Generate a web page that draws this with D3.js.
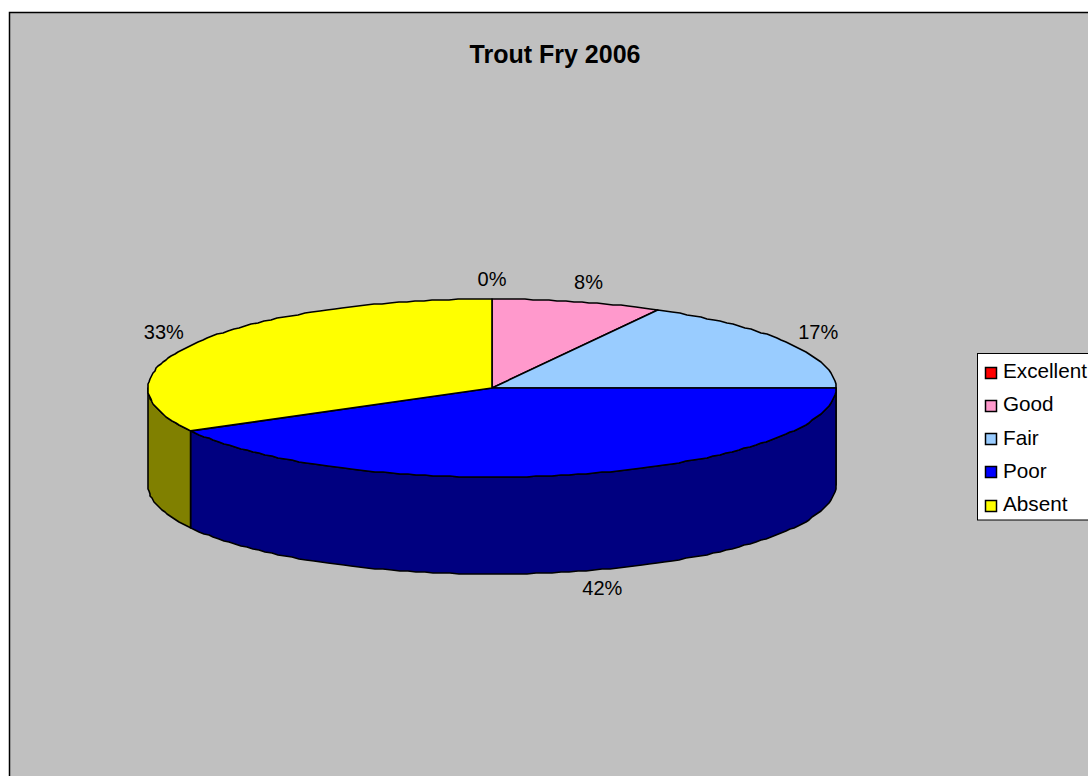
<!DOCTYPE html>
<html><head><meta charset="utf-8">
<script src="https://cdn.jsdelivr.net/npm/d3@7/dist/d3.min.js"></script>
<style>html,body{margin:0;padding:0;background:#fff;overflow:hidden}svg{display:block}text{font-family:"Liberation Sans",Arial,sans-serif}</style>
</head><body><svg id="c" width="1088" height="776"></svg>
<script>
const title = "Trout Fry 2006";
const categories = ["Excellent","Good","Fair","Poor","Absent"];
const values = [0,8,17,42,33];
const labels = ["0%","8%","17%","42%","33%"];
const topColors = ["#FF0000","#FF99CC","#99CCFF","#0000FF","#FFFF00"];
const sideColors = ["#800000","#804D66","#4D6680","#000080","#808000"];

const svg = d3.select("#c");
svg.append("rect").attr("x",9.5).attr("y",12.5).attr("width",1200).attr("height",900)
  .attr("fill","#C0C0C0").attr("stroke","#000").attr("stroke-width",1.5);
svg.append("text").attr("x",555).attr("y",63).attr("text-anchor","middle")
  .attr("font-size",25).attr("font-weight","bold").text(title);

const cx=492, cy=388, rx=344, ry=89, depth=97;
const sx=d3.scaleLinear().domain([-1,1]).range([cx-rx,cx+rx]);
const sy=d3.scaleLinear().domain([-1,1]).range([cy-ry,cy+ry]);
const pie=d3.pie().sort(null).value(d=>d)(values);
const pt=(a,dz=0)=>[sx(Math.sin(a)),sy(-Math.cos(a))+dz];
// the reference outline is a slightly stepped polyline
const snap=p=>[Math.round(p[0]),Math.round(p[1])];
const arcPts=(a0,a1,dz=0)=>{const n=Math.max(2,Math.ceil((a1-a0)/0.025));
  return d3.range(n+1).map(i=>{const q=pt(a0+(a1-a0)*i/n,dz);return (i===0||i===n)?q:snap(q);});};
const line=d3.line();
function styled(s,fill){s.attr("fill",fill).attr("stroke","#000").attr("stroke-width",1.6).attr("stroke-linejoin","round");}

const H=Math.PI/2, L=3*Math.PI/2;
pie.forEach((p,i)=>{
  const a0=Math.max(p.startAngle,H), a1=Math.min(p.endAngle,L);
  if(a1>a0){
    const pts=arcPts(a0,a1).concat(arcPts(a0,a1,depth).reverse());
    styled(svg.append("path").attr("d",line(pts)+"Z"),sideColors[i]);
  }
});
pie.forEach((p,i)=>{
  if(p.endAngle>p.startAngle){
    const pts=[[sx(0),sy(0)],...arcPts(p.startAngle,p.endAngle)];
    styled(svg.append("path").attr("d",line(pts)+"Z"),topColors[i]);
  }
});
pie.forEach((p,i)=>{
  const m=(p.startAngle+p.endAngle)/2;
  const lower=Math.cos(m)<0;
  const x=sx(Math.sin(m)*(lower?1.29:1.105))+(lower?0:-1);
  const y=sy(-Math.cos(m)*1.23)+(lower?depth-3:0);
  svg.append("text").attr("x",x+(i===1?3:i===0?1:0)).attr("y",y).attr("dy","0.35em").attr("text-anchor","middle")
    .attr("font-size",20).text(labels[i]);
});

const lg=svg.append("g");
lg.append("rect").attr("x",977.5).attr("y",353.5).attr("width",200).attr("height",166.5)
  .attr("fill","#fff").attr("stroke","#000").attr("stroke-width",1);
const ly=d3.scalePoint().domain(categories).range([372.5,505.5]);
categories.forEach((c,i)=>{
  lg.append("rect").attr("x",985.5).attr("y",Math.round(ly(c)-6)+.5).attr("width",11).attr("height",11)
    .attr("fill",topColors[i]).attr("stroke","#000").attr("stroke-width",1.5);
  lg.append("text").attr("x",1003).attr("y",ly(c)+5.5).attr("font-size",20.7).text(c);
});
</script></body></html>
